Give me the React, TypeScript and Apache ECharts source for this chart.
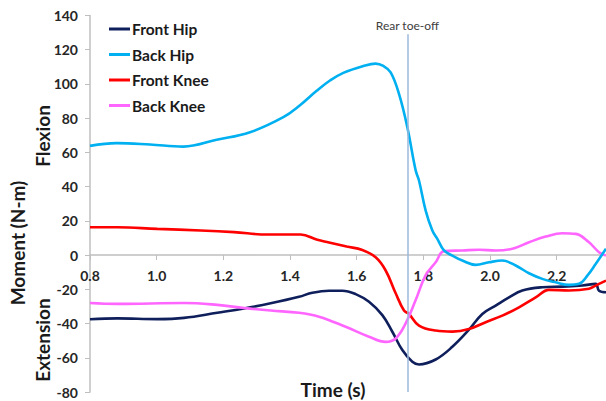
import React, { useEffect, useRef } from "react";
import * as echarts from "echarts";

const xTicks = [0.8, 1.0, 1.2, 1.4, 1.6, 1.8, 2.0, 2.2];
const yTicks = [-80, -60, -40, -20, 0, 20, 40, 60, 80, 100, 120, 140];
const toeOffTime = 1.752;
const toeOffTop = 129;

const frontHipT = [0.8, 0.882, 1.002, 1.082, 1.182, 1.262, 1.342, 1.427, 1.467, 1.517, 1.557, 1.597, 1.637, 1.677, 1.707, 1.737, 1.767, 1.787, 1.837, 1.887, 1.937, 1.977, 2.017, 2.057, 2.097, 2.157, 2.217, 2.277, 2.317, 2.327, 2.348];
const frontHipV = [-37.5, -37, -37.4, -36.7, -33.7, -31.2, -28.2, -24.4, -22, -20.8, -20.8, -22.8, -27.3, -35.1, -44.8, -55.5, -62.3, -63.9, -61, -53.6, -43.6, -34.4, -29.5, -24.7, -20.7, -18.8, -18.4, -17.8, -16.8, -20.8, -21.7];

const backHipT = [0.8, 0.88, 0.98, 1.08, 1.18, 1.28, 1.38, 1.43, 1.48, 1.52, 1.56, 1.62, 1.657, 1.68, 1.702, 1.727, 1.752, 1.777, 1.787, 1.807, 1.827, 1.842, 1.862, 1.887, 1.917, 1.957, 1.997, 2.037, 2.077, 2.117, 2.157, 2.197, 2.237, 2.267, 2.292, 2.317, 2.348];
const backHipV = [63.8, 65.4, 64.6, 63.4, 67.4, 71.8, 80.6, 87.6, 96, 102, 106.5, 110.5, 111.9, 110.5, 106.8, 94.2, 74.7, 49.5, 43.6, 26, 14.4, 9.5, 2.7, -0.3, -3.2, -5.7, -4.2, -3.2, -6.1, -10.6, -13.9, -15.9, -17.4, -16.8, -12, -5.2, 3.7];

const frontKneeT = [0.8, 0.882, 1.002, 1.132, 1.232, 1.332, 1.432, 1.482, 1.517, 1.57, 1.617, 1.657, 1.687, 1.717, 1.742, 1.757, 1.787, 1.837, 1.887, 1.937, 1.987, 2.037, 2.087, 2.137, 2.177, 2.237, 2.297, 2.317, 2.348];
const frontKneeV = [16.3, 16.3, 15.3, 14.4, 13.4, 12, 12, 8.9, 7.4, 5, 3, -1.3, -9, -22.3, -32.4, -34.4, -41.2, -44.1, -44.7, -43.2, -39.2, -35.4, -30.5, -24.7, -20.3, -20.7, -19.7, -17.8, -14.9];

const backKneeT = [0.8, 0.882, 1.082, 1.182, 1.262, 1.342, 1.427, 1.487, 1.567, 1.637, 1.687, 1.717, 1.747, 1.777, 1.807, 1.837, 1.862, 1.917, 1.967, 2.017, 2.067, 2.117, 2.167, 2.217, 2.257, 2.297, 2.327, 2.348];
const backKneeV = [-28, -28.5, -28, -29.1, -30.9, -32.4, -33.7, -36, -41.9, -47.7, -50.7, -48.7, -39.9, -26.3, -11.7, -4.2, 2.3, 2.7, 3.1, 2.7, 3.7, 7.5, 10.8, 12.8, 12.4, 7.5, 1.7, -0.3];

const seriesNames = ["Front Hip", "Back Hip", "Front Knee", "Back Knee"];
const seriesColors = ["#0f1f5c", "#00b0f0", "#ff0000", "#ff66ff"];

const zip = (t: number[], v: number[]) => t.map((x, i) => [x, v[i]]);

export default function App() {
  const ref = useRef<HTMLDivElement>(null);
  useEffect(() => {
    if (!ref.current) return;
    const chart = echarts.init(ref.current, null, { renderer: "svg" });
    const font = "Lato, 'Open Sans', sans-serif";
    const gridTop = 15.5;
    const gridBottom = 9;
    const plotH = 401 - gridTop - gridBottom;
    const yMin = yTicks[0];
    const yMax = yTicks[yTicks.length - 1];
    const zeroOffset = -((0 - yMin) / (yMax - yMin)) * plotH;
    const datasets = [
      zip(frontHipT, frontHipV),
      zip(backHipT, backHipV),
      zip(frontKneeT, frontKneeV),
      zip(backKneeT, backKneeV),
    ];
    const series: any[] = datasets.map((d, i) => ({
      name: seriesNames[i],
      type: "line",
      data: d,
      smooth: 0.4,
      symbol: "none",
      lineStyle: { width: 2.6, color: seriesColors[i] },
      itemStyle: { color: seriesColors[i] },
      emphasis: { disabled: true },
      z: i === 1 ? 3 : 2,
    }));
    series[1].markLine = {
      silent: true,
      symbol: "none",
      animation: false,
      lineStyle: { color: "#9db8dc", width: 1.5, type: "solid" },
      label: {
        show: true,
        position: "end",
        formatter: "Rear toe-off",
        color: "#404040",
        fontSize: 12,
        fontFamily: font,
        distance: 3,
      },
      data: [[{ coord: [toeOffTime, yMin] }, { coord: [toeOffTime, toeOffTop] }]],
    };
    const axisTitle = (text: string, x: number, y: number, rotate: boolean) => ({
      type: "text",
      x,
      y,
      rotation: rotate ? Math.PI / 2 : 0,
      style: {
        text,
        fontSize: 19,
        fontWeight: "bold",
        fontFamily: font,
        fill: "#1a1a1a",
        align: "center",
        verticalAlign: "middle",
      },
    });
    chart.setOption({
      animation: false,
      grid: { left: 90, right: 0, top: gridTop, bottom: gridBottom, outerBoundsMode: "none", containLabel: false },
      legend: {
        orient: "vertical",
        left: 104,
        top: 16,
        itemWidth: 21,
        itemHeight: 14,
        itemGap: 9.5,
        data: seriesNames.map((n, i) => ({
          name: n,
          icon: "path://M0,6 L21,6 L21,9 L0,9 Z",
          itemStyle: { color: seriesColors[i] },
        })),
        textStyle: { fontSize: 15.5, fontWeight: "bold", color: "#1a1a1a", fontFamily: font, padding: [0, 0, 0, -3] },
        selectedMode: false,
      },
      xAxis: {
        type: "value",
        min: xTicks[0],
        max: 2.348,
        interval: 0.2,
        offset: zeroOffset,
        axisLine: { onZero: false, lineStyle: { color: "#bfbfbf", width: 1.5 } },
        axisTick: { show: true, length: 5, lineStyle: { color: "#bfbfbf" } },
        splitLine: { show: false },
        axisLabel: {
          margin: 13,
          fontSize: 14,
          fontWeight: "bold",
          color: "#262626",
          fontFamily: font,
          showMaxLabel: false,
          formatter: (v: number) => {
            const hit = xTicks.find((t) => Math.abs(t - v) < 1e-6);
            return hit === undefined ? "" : hit.toFixed(1);
          },
        },
      },
      yAxis: {
        type: "value",
        min: yMin,
        max: yMax,
        interval: 20,
        axisLine: { show: true, lineStyle: { color: "#bfbfbf", width: 1.5 } },
        axisTick: { show: true, length: 5, lineStyle: { color: "#bfbfbf" } },
        splitLine: { show: false },
        axisLabel: {
          margin: 12,
          fontSize: 14,
          fontWeight: "bold",
          color: "#262626",
          fontFamily: font,
        },
      },
      graphic: [
        axisTitle("Moment (N-m)", 17, 243, true),
        axisTitle("Flexion", 42, 136, true),
        axisTitle("Extension", 42, 340, true),
        axisTitle("Time (s)", 333, 389, false),
      ],
      series,
    });
    return () => chart.dispose();
  }, []);
  return (
    <div
      ref={ref}
      style={{ position: "fixed", left: 0, top: 0, width: 606, height: 401, background: "#fff" }}
    />
  );
}
